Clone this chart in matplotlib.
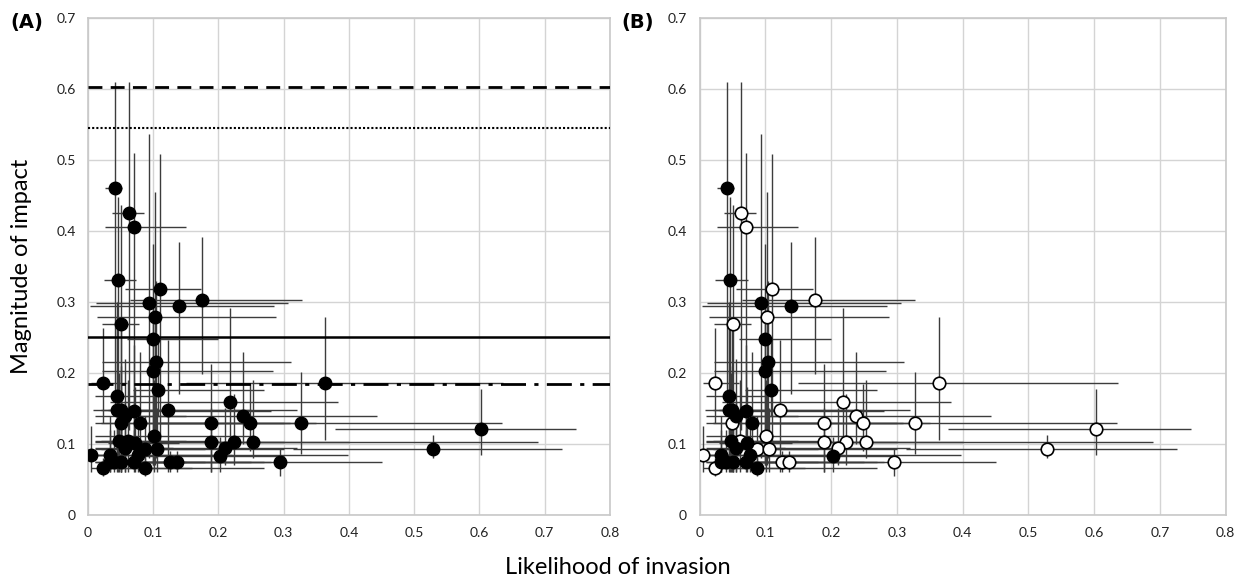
import matplotlib
matplotlib.use("Agg")
import matplotlib.pyplot as plt
import numpy as np

plt.rcParams['font.family'] = ['Lato', 'DejaVu Sans']

# likelihood of invasion (x) and magnitude of impact (y), with bounds of the bars
likelihood = [0.042, 0.063, 0.071, 0.046, 0.110, 0.094, 0.139, 0.175, 0.103, 0.051,
              0.100, 0.104, 0.100, 0.023, 0.108, 0.044, 0.123, 0.045, 0.050, 0.071,
              0.056, 0.050, 0.079, 0.218, 0.238, 0.189, 0.249, 0.101, 0.048, 0.062,
              0.072, 0.189, 0.223, 0.253, 0.088, 0.105, 0.056, 0.210, 0.005, 0.033,
              0.076, 0.203, 0.033, 0.040, 0.051, 0.070, 0.125, 0.136, 0.023, 0.088,
              0.295, 0.364, 0.327, 0.603, 0.529]
impact = [0.461, 0.426, 0.405, 0.331, 0.318, 0.298, 0.294, 0.303, 0.279, 0.269,
          0.248, 0.215, 0.203, 0.186, 0.176, 0.168, 0.148, 0.148, 0.148, 0.147,
          0.139, 0.130, 0.130, 0.159, 0.139, 0.129, 0.129, 0.111, 0.104, 0.104,
          0.102, 0.103, 0.103, 0.103, 0.093, 0.093, 0.094, 0.094, 0.084, 0.085,
          0.084, 0.083, 0.075, 0.075, 0.075, 0.075, 0.074, 0.074, 0.066, 0.066,
          0.075, 0.186, 0.129, 0.121, 0.093]
lik_lo = [0.026, 0.037, 0.026, 0.024, 0.056, 0.012, 0.003, 0.064, 0.014, 0.022,
          0.060, 0.022, 0.022, 0.005, 0.069, 0.010, 0.020, 0.008, 0.030, 0.040,
          0.010, 0.020, 0.010, 0.034, 0.050, 0.080, 0.110, 0.010, 0.010, 0.020,
          0.030, 0.050, 0.010, 0.120, 0.010, 0.020, 0.010, 0.060, 0.000, 0.005,
          0.010, 0.070, 0.010, 0.010, 0.020, 0.020, 0.030, 0.050, 0.005, 0.020,
          0.100, 0.150, 0.100, 0.378, 0.314]
lik_hi = [0.052, 0.086, 0.150, 0.073, 0.173, 0.306, 0.285, 0.328, 0.288, 0.078,
          0.200, 0.311, 0.283, 0.060, 0.270, 0.100, 0.320, 0.250, 0.120, 0.280,
          0.150, 0.200, 0.310, 0.383, 0.443, 0.300, 0.350, 0.250, 0.200, 0.150,
          0.140, 0.300, 0.690, 0.400, 0.180, 0.300, 0.130, 0.320, 0.060, 0.398,
          0.220, 0.300, 0.270, 0.100, 0.150, 0.180, 0.250, 0.280, 0.270, 0.160,
          0.451, 0.636, 0.635, 0.748, 0.726]
imp_lo = [0.140, 0.120, 0.090, 0.060, 0.090, 0.080, 0.171, 0.198, 0.070, 0.060,
          0.070, 0.080, 0.070, 0.130, 0.140, 0.070, 0.060, 0.060, 0.070, 0.070,
          0.060, 0.060, 0.060, 0.100, 0.100, 0.060, 0.090, 0.060, 0.060, 0.060,
          0.060, 0.060, 0.070, 0.080, 0.060, 0.060, 0.060, 0.070, 0.060, 0.060,
          0.060, 0.060, 0.060, 0.060, 0.060, 0.060, 0.060, 0.060, 0.055, 0.055,
          0.055, 0.106, 0.086, 0.085, 0.080]
imp_hi = [0.610, 0.610, 0.510, 0.448, 0.508, 0.537, 0.385, 0.391, 0.455, 0.437,
          0.382, 0.330, 0.300, 0.263, 0.250, 0.300, 0.247, 0.280, 0.260, 0.240,
          0.220, 0.210, 0.230, 0.292, 0.230, 0.213, 0.184, 0.190, 0.200, 0.190,
          0.180, 0.150, 0.170, 0.190, 0.140, 0.150, 0.160, 0.150, 0.125, 0.140,
          0.130, 0.110, 0.120, 0.120, 0.130, 0.120, 0.090, 0.090, 0.080, 0.080,
          0.095, 0.279, 0.202, 0.177, 0.113]
# filled marker in panel B (1) or open marker (0)
filled_b = [1, 0, 0, 1, 0, 1, 1, 0, 0, 0,
            1, 1, 1, 0, 1, 1, 0, 1, 1, 1,
            1, 0, 1, 0, 0, 0, 0, 0, 1, 0,
            1, 0, 0, 0, 0, 0, 1, 0, 0, 1,
            1, 1, 1, 1, 1, 1, 0, 0, 0, 1,
            0, 0, 0, 0, 0]

# reference lines in panel A
ref_levels = [0.603, 0.545, 0.251, 0.185]
ref_styles = [(0, (5, 3)), (0, (1, 1)), '-', (0, (9, 3, 1.5, 3))]
ref_widths = [2.0, 1.5, 1.8, 2.0]

x = np.array(likelihood)
y = np.array(impact)
xerr = [x - np.array(lik_lo), np.array(lik_hi) - x]
yerr = [y - np.array(imp_lo), np.array(imp_hi) - y]
filled = np.array(filled_b) == 1

fig = plt.figure(figsize=(12.36, 5.85), dpi=100)
axA = fig.add_axes([0.0712, 0.1197, 0.4223, 0.8496])
axB = fig.add_axes([0.566, 0.1197, 0.4256, 0.8496])


def style_axis(ax):
    ax.set_xlim(0, 0.8)
    ax.set_ylim(0, 0.7)
    ax.set_xticks(np.arange(0, 0.81, 0.1))
    ax.set_yticks(np.arange(0, 0.71, 0.1))
    ax.set_xticklabels(['0'] + ['%.1f' % v for v in np.arange(0.1, 0.81, 0.1)])
    ax.set_yticklabels(['0'] + ['%.1f' % v for v in np.arange(0.1, 0.71, 0.1)])
    ax.grid(True, color='#d4d4d4', linewidth=1.0)
    ax.set_axisbelow(True)
    for s in ax.spines.values():
        s.set_color('#c8c8c8')
        s.set_linewidth(1.2)
    ax.tick_params(length=0, labelsize=10, labelcolor='#222222', pad=9)


for ax in (axA, axB):
    style_axis(ax)
    ax.errorbar(x, y, xerr=xerr, yerr=yerr, fmt='none', ecolor='#3c3c3c',
                elinewidth=1.0, capsize=0, zorder=2)

# panel A: all filled
axA.plot(x, y, 'o', color='black', markersize=9, zorder=4)
for lev, ls, lw in zip(ref_levels, ref_styles, ref_widths):
    axA.axhline(lev, color='black', linestyle=ls, linewidth=lw, zorder=3)

# panel B: open and filled
axB.plot(x[~filled], y[~filled], 'o', markerfacecolor='white', markeredgecolor='black',
         markeredgewidth=1.2, markersize=9, zorder=4)
axB.plot(x[filled], y[filled], 'o', color='black', markersize=9, zorder=5)

fig.text(0.008, 0.952, '(A)', fontsize=14, fontweight='bold', family=['DejaVu Sans'])
fig.text(0.503, 0.952, '(B)', fontsize=14, fontweight='bold', family=['DejaVu Sans'])
fig.text(0.017, 0.545, 'Magnitude of impact', rotation=90, fontsize=17,
         va='center', ha='center')
fig.text(0.5, 0.03, 'Likelihood of invasion', fontsize=17, va='center', ha='center')

plt.savefig('out.png', dpi=100)
